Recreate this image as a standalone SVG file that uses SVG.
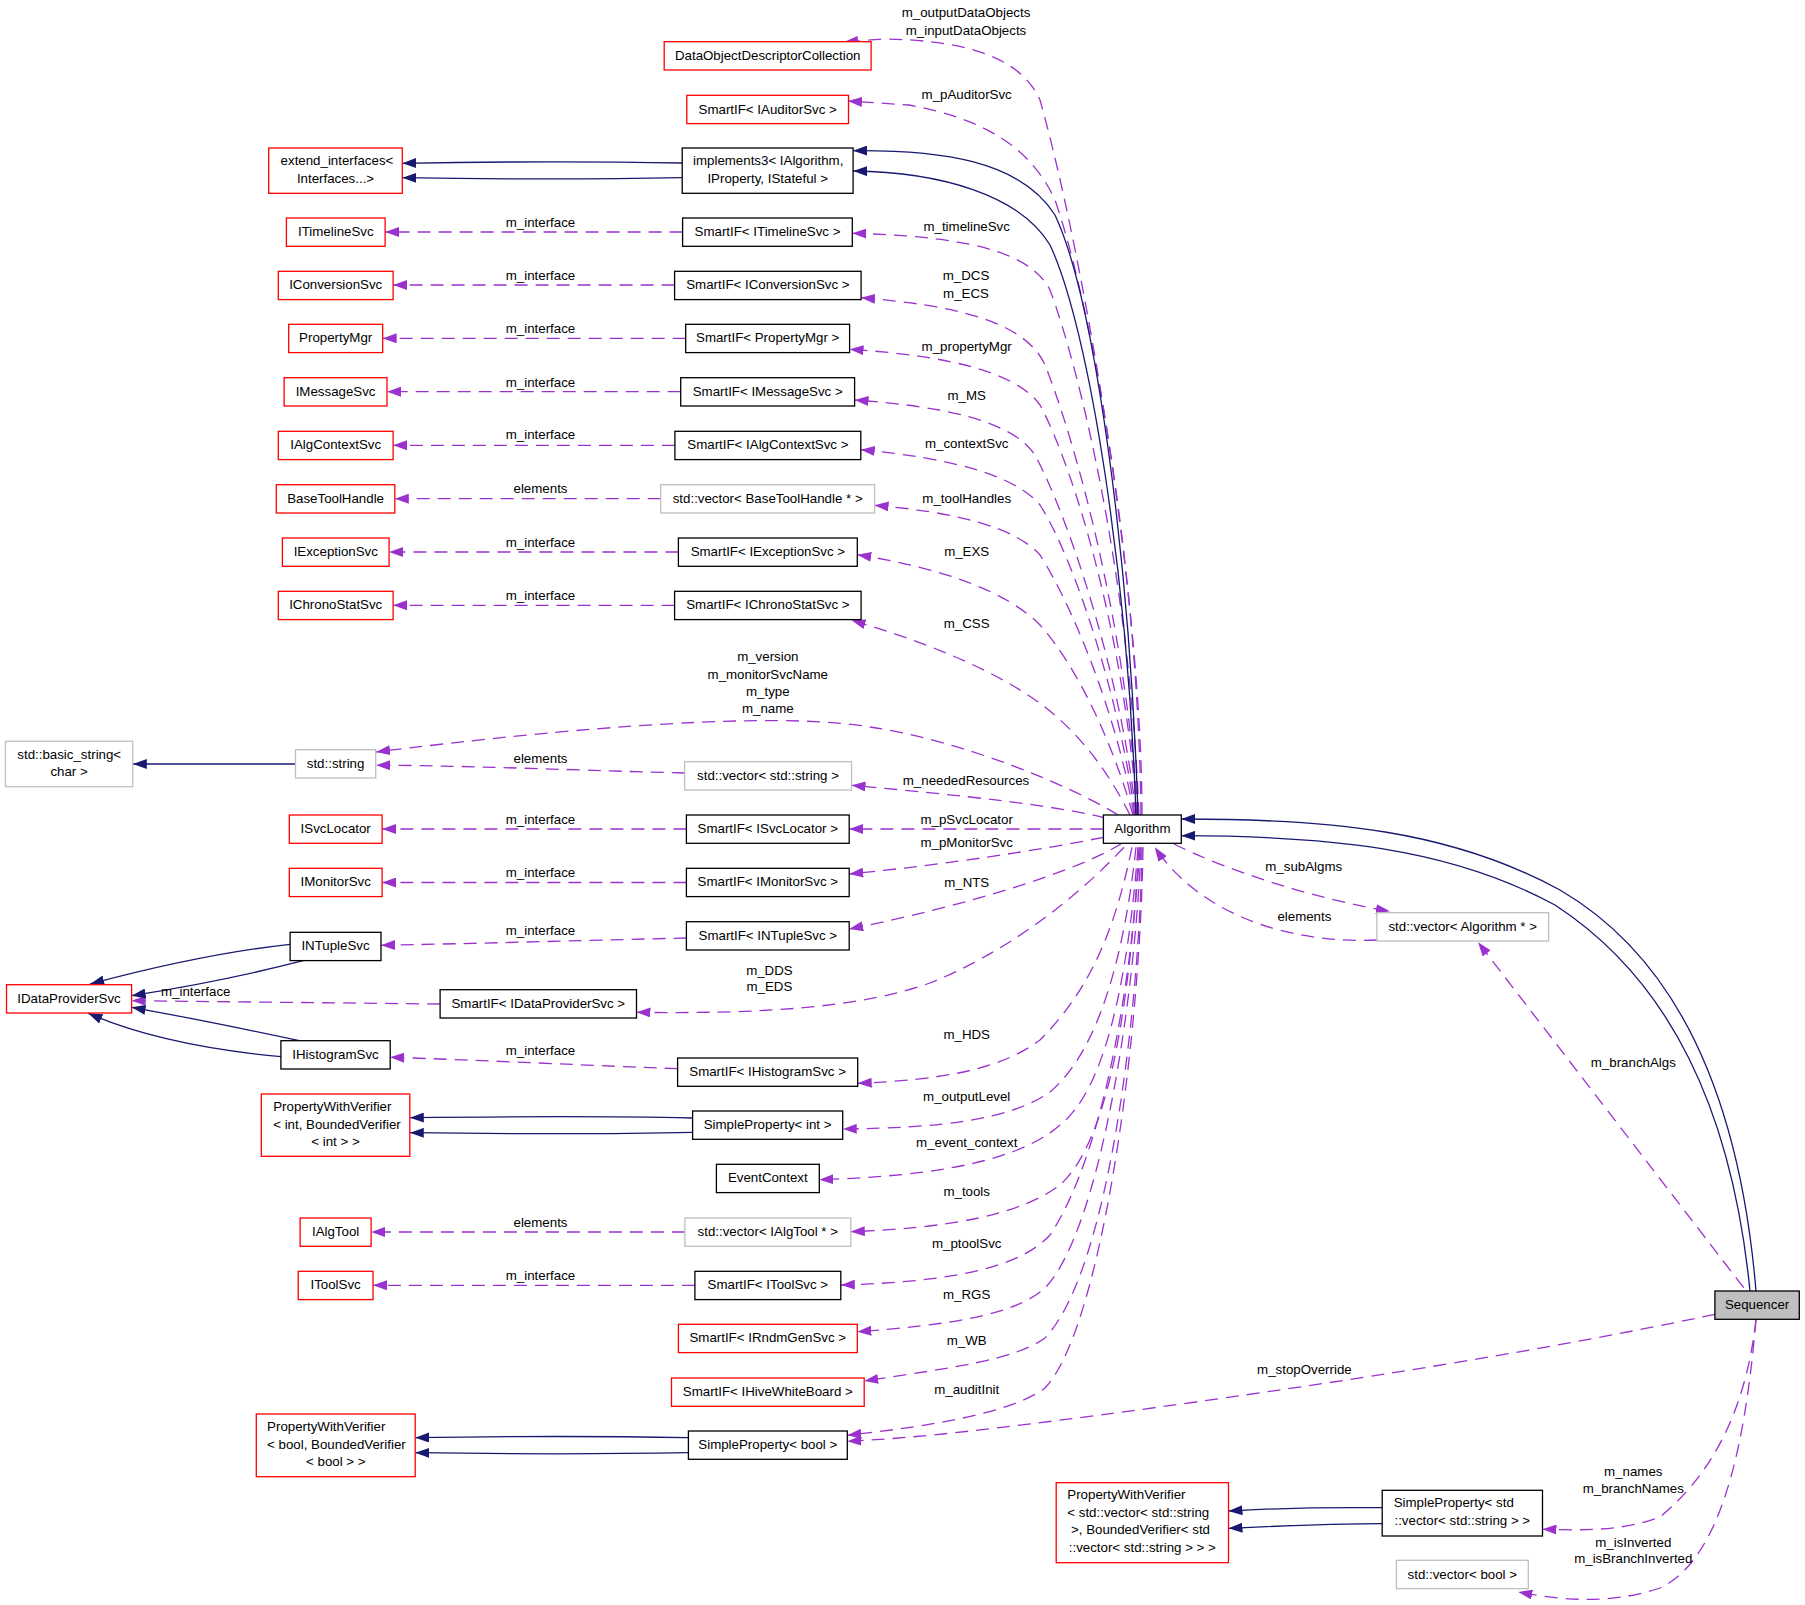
<svg xmlns="http://www.w3.org/2000/svg" width="1805" height="1605" viewBox="0 0 1805 1605">
<style>
rect{stroke-width:1.3}
.nr rect{fill:#fff;stroke:#ff0000}
.nk rect{fill:#fff;stroke:#000}
.ng rect{fill:#fff;stroke:#bfbfbf}
.ns rect{fill:#bfbfbf;stroke:#000}
text{font-family:"Liberation Sans",Arial,Helvetica,sans-serif;font-size:13.3px;fill:#000;text-anchor:middle}
text.l{text-anchor:start}
.e{fill:none;stroke:#9a32cd;stroke-width:1.3;stroke-dasharray:13,8;marker-end:url(#ap)}
.i{fill:none;stroke:#191970;stroke-width:1.3;marker-end:url(#an)}
</style>
<defs>
<marker id="ap" viewBox="0 0 14 10" refX="14" refY="5" markerWidth="14" markerHeight="10" markerUnits="userSpaceOnUse" orient="auto"><path d="M0,0 L14,5 L0,10 z" fill="#9a32cd"/></marker>
<marker id="an" viewBox="0 0 14 10" refX="14" refY="5" markerWidth="14" markerHeight="10" markerUnits="userSpaceOnUse" orient="auto"><path d="M0,0 L14,5 L0,10 z" fill="#191970"/></marker>
</defs>
<rect x="0" y="0" width="1805" height="1605" fill="#fff" stroke="none"/>
<g id="edges">
<path class="e" d="M1142,815 C1142,600 1085,260 1040,100 C1020,55 960,40 884,39 L844,42"/>
<path class="e" d="M1141,815 C1138,560 1090,300 1055,200 C1030,145 980,118 909,105 L848,101"/>
<path class="e" d="M1139,815 C1130,580 1080,370 1050,290 C1030,250 960,236 852.3,233.3"/>
<path class="e" d="M1138,815 C1125,620 1075,440 1045,365 C1025,320 950,305 861.1,297.7"/>
<path class="e" d="M1137,815 C1125,640 1075,470 1040,405 C1015,370 940,355 849.6,349.3"/>
<path class="e" d="M1136,815 C1122,680 1070,520 1035,455 C1012,420 940,406 854.6,400"/>
<path class="e" d="M1135,815 C1120,700 1075,560 1040,505 C1015,475 950,458 860.8,449.7"/>
<path class="e" d="M1134,815 C1118,720 1075,610 1040,555 C1015,527 955,512 874.6,505.3"/>
<path class="e" d="M1133,815 C1115,750 1080,670 1040,625 C1005,590 940,568 857.3,554.7"/>
<path class="e" d="M1130,815 C1105,765 1070,720 1020,690 C980,665 920,640 851.5,620.3"/>
<path class="e" d="M1118,815 C1070,785 960,740 870,727 C800,715 650,718 376.1,752"/>
<path class="e" d="M1105,818 C1060,806 960,795 851.5,785.3"/>
<path class="e" d="M684.6,773 C600,771 450,765 376.1,765.3"/>
<path class="e" d="M1103.4,829 L849.2,829"/>
<path class="e" d="M1103.4,837.3 C1040,850 950,864 849.2,874"/>
<path class="e" d="M1122,843.3 C1080,870 970,905 849.2,929"/>
<path class="e" d="M1124,847.3 C1070,905 1000,955 930,983 C860,1008 760,1014 636.5,1012.3"/>
<path class="e" d="M1132,847.3 C1115,930 1090,990 1040,1040 C1000,1070 940,1080 857.7,1083.3"/>
<path class="e" d="M1136,847.3 C1125,950 1100,1050 1050,1092 C1010,1120 940,1128 842.7,1129"/>
<path class="e" d="M1138,847.3 C1128,980 1105,1090 1060,1125 C1020,1160 940,1176 819.3,1179.7"/>
<path class="e" d="M1139,847.3 C1130,1000 1110,1140 1060,1185 C1020,1215 950,1228 850.8,1231.7"/>
<path class="e" d="M1140,847.3 C1130,1000 1100,1160 1050,1235 C1020,1268 950,1282 840.8,1285"/>
<path class="e" d="M1141,847.3 C1135,1000 1100,1230 1045,1288 C1015,1315 950,1325 857.3,1331.7"/>
<path class="e" d="M1142,847.3 C1140,1000 1110,1270 1045,1338 C1015,1360 950,1368 864.2,1381"/>
<path class="e" d="M1143,847.3 C1140,1050 1100,1330 1045,1388 C1015,1410 950,1424 847.3,1435.3"/>
<path class="e" d="M1714.9,1314.3 C1500,1360 1250,1395 1100,1415 C1000,1428 920,1438 847.3,1441.3"/>
<path class="e" d="M1174,844 C1230,872 1320,900 1389.9,911.3"/>
<path class="e" d="M1376.9,940 C1290,944 1200,915 1154.8,847.3"/>
<path class="e" d="M1743.7,1287.7 L1478.1,942.3"/>
<path class="e" d="M1756,1319.3 C1745,1420 1705,1480 1660,1517 C1620,1532 1580,1530 1542.5,1529.3"/>
<path class="e" d="M1756,1319.3 C1745,1450 1720,1560 1660,1588 C1610,1605 1560,1600 1518.3,1592"/>
<path class="e" d="M682.6,232 L385.1,232"/>
<path class="e" d="M674.6,285 L393.1,285"/>
<path class="e" d="M685.7,338.3 L382.7,338.3"/>
<path class="e" d="M680.7,391.7 L387,391.7"/>
<path class="e" d="M674.9,445.3 L393.1,445.3"/>
<path class="e" d="M660.7,498.7 L394.8,498.7"/>
<path class="e" d="M678.4,552 L389.1,552"/>
<path class="e" d="M674.6,605.3 L393.1,605.3"/>
<path class="e" d="M686.4,829 L382.1,829"/>
<path class="e" d="M686.4,882.5 L382.1,882.5"/>
<path class="e" d="M686.4,938 C600,940 500,943 381,945.3"/>
<path class="e" d="M440.1,1004 L131.6,1000.7"/>
<path class="e" d="M677.6,1068.7 C600,1066 480,1060 390.2,1057.3"/>
<path class="e" d="M684.9,1232 L371.1,1232"/>
<path class="e" d="M694.9,1285.3 L373,1285.3"/>
<path class="i" d="M1138,815 C1130,560 1095,300 1055,215 C1020,160 940,150 853.1,150.7"/>
<path class="i" d="M1136,815 C1128,580 1090,330 1050,245 C1020,195 940,172 853.1,171"/>
<path class="i" d="M682.2,163 C600,161.5 500,161.5 402.3,163.3"/>
<path class="i" d="M682.2,177.7 C600,179.3 500,179.3 402.3,177.7"/>
<path class="i" d="M295.5,764 L132.8,764"/>
<path class="i" d="M290.1,944.3 C220,952 150,968 90.2,984"/>
<path class="i" d="M303.1,960.7 C240,977 180,988 131.6,995.7"/>
<path class="i" d="M299.3,1040.7 C240,1028 180,1016 131.6,1007.3"/>
<path class="i" d="M280.9,1056.7 C210,1050 140,1036 88.3,1013.3"/>
<path class="i" d="M692.6,1118 C620,1116.3 520,1116.3 409.8,1117.7"/>
<path class="i" d="M692.6,1132.3 C620,1134 520,1134 409.8,1132.7"/>
<path class="i" d="M688.4,1437.7 C600,1436 520,1436 415.2,1437.7"/>
<path class="i" d="M688.4,1452.7 C600,1454.3 520,1454.3 415.2,1452.7"/>
<path class="i" d="M1382.2,1507.7 C1320,1507 1280,1508 1228.5,1511"/>
<path class="i" d="M1382.2,1523.7 C1320,1524 1280,1526 1228.5,1528.3"/>
<path class="i" d="M1756,1291 C1740,1100 1680,960 1560,890 C1450,830 1330,819 1181.3,819"/>
<path class="i" d="M1750,1291 C1732,1110 1670,980 1555,905 C1450,848 1330,836 1181.3,835.7"/>
</g>
<g id="edge-labels">
<text x="966" y="16.7">m_outputDataObjects</text>
<text x="966" y="34.7">m_inputDataObjects</text>
<text x="966.7" y="98.7">m_pAuditorSvc</text>
<text x="966.7" y="230.7">m_timelineSvc</text>
<text x="966" y="280">m_DCS</text>
<text x="966" y="298.3">m_ECS</text>
<text x="966.7" y="350.7">m_propertyMgr</text>
<text x="966.7" y="400">m_MS</text>
<text x="966.7" y="447.7">m_contextSvc</text>
<text x="966.7" y="502.7">m_toolHandles</text>
<text x="966.7" y="555.7">m_EXS</text>
<text x="966.7" y="628.3">m_CSS</text>
<text x="767.8" y="661">m_version</text>
<text x="767.8" y="678.7">m_monitorSvcName</text>
<text x="767.8" y="696">m_type</text>
<text x="767.8" y="712.7">m_name</text>
<text x="966" y="784.7">m_neededResources</text>
<text x="966.7" y="823.7">m_pSvcLocator</text>
<text x="966.7" y="846.7">m_pMonitorSvc</text>
<text x="966.7" y="886.7">m_NTS</text>
<text x="769.4" y="974.7">m_DDS</text>
<text x="769.4" y="991.3">m_EDS</text>
<text x="966.7" y="1039.3">m_HDS</text>
<text x="966.7" y="1100.7">m_outputLevel</text>
<text x="966.7" y="1146.7">m_event_context</text>
<text x="966.7" y="1195.7">m_tools</text>
<text x="966.7" y="1247.7">m_ptoolSvc</text>
<text x="966.7" y="1299.3">m_RGS</text>
<text x="966.7" y="1344.7">m_WB</text>
<text x="966.7" y="1394.3">m_auditInit</text>
<text x="1304.4" y="1374.3">m_stopOverride</text>
<text x="1303.7" y="871.3">m_subAlgms</text>
<text x="1304.4" y="920.7">elements</text>
<text x="1633.3" y="1066.7">m_branchAlgs</text>
<text x="1633.3" y="1475.7">m_names</text>
<text x="1633.3" y="1492.7">m_branchNames</text>
<text x="1633.3" y="1546.7">m_isInverted</text>
<text x="1633.3" y="1563.3">m_isBranchInverted</text>
<text x="540.5" y="226.7">m_interface</text>
<text x="540.5" y="279.7">m_interface</text>
<text x="540.5" y="332.7">m_interface</text>
<text x="540.5" y="386.7">m_interface</text>
<text x="540.5" y="439.3">m_interface</text>
<text x="540.5" y="492.7">elements</text>
<text x="540.5" y="546.7">m_interface</text>
<text x="540.5" y="599.7">m_interface</text>
<text x="540.5" y="762.7">elements</text>
<text x="540.5" y="823.7">m_interface</text>
<text x="540.5" y="876.7">m_interface</text>
<text x="540.5" y="934.7">m_interface</text>
<text x="195.7" y="995.7">m_interface</text>
<text x="540.5" y="1054.7">m_interface</text>
<text x="540.5" y="1226.7">elements</text>
<text x="540.5" y="1279.7">m_interface</text>
</g>
<g id="n_DataObjectDescriptorCollection" class="nr"><rect x="664.2" y="41.7" width="206.9" height="28.3"/><text x="767.7" y="60">DataObjectDescriptorCollection</text></g>
<g id="n_SmartIF_IAuditorSvc" class="nr"><rect x="686.8" y="95.3" width="161.7" height="28.3"/><text x="767.7" y="113.5">SmartIF&lt; IAuditorSvc &gt;</text></g>
<g id="n_implements3" class="nk"><rect x="682.2" y="148" width="170.9" height="45.3"/><text class="l" x="693" y="164.7">implements3&lt; IAlgorithm,</text><text x="767.7" y="182.7">IProperty, IStateful &gt;</text></g>
<g id="n_extend_interfaces" class="nr"><rect x="268.7" y="148" width="133.6" height="45.3"/><text class="l" x="280.6" y="164.7">extend_interfaces&lt;</text><text x="335.5" y="182.7">Interfaces...&gt;</text></g>
<g id="n_ITimelineSvc" class="nr"><rect x="286.4" y="218" width="98.7" height="28.3"/><text x="335.8" y="236">ITimelineSvc</text></g>
<g id="n_SmartIF_ITimelineSvc" class="nk"><rect x="682.6" y="218" width="169.7" height="28.3"/><text x="767.5" y="236">SmartIF&lt; ITimelineSvc &gt;</text></g>
<g id="n_IConversionSvc" class="nr"><rect x="278.3" y="271.3" width="114.8" height="28.3"/><text x="335.7" y="289.3">IConversionSvc</text></g>
<g id="n_SmartIF_IConversionSvc" class="nk"><rect x="674.6" y="271.3" width="186.5" height="28.3"/><text x="767.9" y="289.3">SmartIF&lt; IConversionSvc &gt;</text></g>
<g id="n_PropertyMgr" class="nr"><rect x="288.7" y="324.3" width="94" height="28.3"/><text x="335.7" y="342.3">PropertyMgr</text></g>
<g id="n_SmartIF_PropertyMgr" class="nk"><rect x="685.7" y="324.3" width="163.9" height="28.3"/><text x="767.7" y="342.3">SmartIF&lt; PropertyMgr &gt;</text></g>
<g id="n_IMessageSvc" class="nr"><rect x="284.1" y="377.7" width="102.9" height="28.3"/><text x="335.6" y="395.8">IMessageSvc</text></g>
<g id="n_SmartIF_IMessageSvc" class="nk"><rect x="680.7" y="377.7" width="173.9" height="28.3"/><text x="767.7" y="395.8">SmartIF&lt; IMessageSvc &gt;</text></g>
<g id="n_IAlgContextSvc" class="nr"><rect x="278.3" y="431.3" width="114.8" height="28.3"/><text x="335.7" y="449.4">IAlgContextSvc</text></g>
<g id="n_SmartIF_IAlgContextSvc" class="nk"><rect x="674.9" y="431.3" width="185.9" height="28.3"/><text x="767.9" y="449.4">SmartIF&lt; IAlgContextSvc &gt;</text></g>
<g id="n_BaseToolHandle" class="nr"><rect x="276.3" y="484.7" width="118.5" height="28.3"/><text x="335.6" y="502.8">BaseToolHandle</text></g>
<g id="n_vector_BaseToolHandle" class="ng"><rect x="660.7" y="484.7" width="213.9" height="28.3"/><text x="767.7" y="502.8">std::vector&lt; BaseToolHandle * &gt;</text></g>
<g id="n_IExceptionSvc" class="nr"><rect x="282.4" y="538" width="106.7" height="28.3"/><text x="335.8" y="556.1">IExceptionSvc</text></g>
<g id="n_SmartIF_IExceptionSvc" class="nk"><rect x="678.4" y="538" width="178.9" height="28.3"/><text x="767.9" y="556.1">SmartIF&lt; IExceptionSvc &gt;</text></g>
<g id="n_IChronoStatSvc" class="nr"><rect x="278.3" y="591.3" width="114.8" height="28.3"/><text x="335.7" y="609.4">IChronoStatSvc</text></g>
<g id="n_SmartIF_IChronoStatSvc" class="nk"><rect x="674.6" y="591.3" width="186.5" height="28.3"/><text x="767.9" y="609.4">SmartIF&lt; IChronoStatSvc &gt;</text></g>
<g id="n_basic_string" class="ng"><rect x="5.4" y="741.3" width="127.4" height="45.4"/><text class="l" x="17.3" y="758.5">std::basic_string&lt;</text><text x="69.1" y="776">char &gt;</text></g>
<g id="n_std_string" class="ng"><rect x="295.5" y="749.7" width="80.2" height="28.3"/><text x="335.6" y="767.8">std::string</text></g>
<g id="n_vector_string" class="ng"><rect x="684.6" y="761.7" width="166.9" height="28.3"/><text x="768" y="779.8">std::vector&lt; std::string &gt;</text></g>
<g id="n_ISvcLocator" class="nr"><rect x="289.3" y="815" width="92.8" height="28.3"/><text x="335.7" y="833.1">ISvcLocator</text></g>
<g id="n_SmartIF_ISvcLocator" class="nk"><rect x="686.4" y="815" width="162.8" height="28.3"/><text x="767.8" y="833.1">SmartIF&lt; ISvcLocator &gt;</text></g>
<g id="n_Algorithm" class="nk"><rect x="1103.4" y="815" width="77.9" height="28.3"/><text x="1142.4" y="833.1">Algorithm</text></g>
<g id="n_IMonitorSvc" class="nr"><rect x="289.3" y="868.3" width="92.8" height="28.3"/><text x="335.7" y="886.4">IMonitorSvc</text></g>
<g id="n_SmartIF_IMonitorSvc" class="nk"><rect x="686.4" y="868.3" width="162.8" height="28.3"/><text x="767.8" y="886.4">SmartIF&lt; IMonitorSvc &gt;</text></g>
<g id="n_INTupleSvc" class="nk"><rect x="290.1" y="932.3" width="90.9" height="28.3"/><text x="335.5" y="950.4">INTupleSvc</text></g>
<g id="n_SmartIF_INTupleSvc" class="nk"><rect x="686.4" y="921.7" width="162.8" height="28.3"/><text x="767.8" y="939.8">SmartIF&lt; INTupleSvc &gt;</text></g>
<g id="n_IDataProviderSvc" class="nr"><rect x="6.5" y="984.7" width="125.1" height="28.3"/><text x="69" y="1002.8">IDataProviderSvc</text></g>
<g id="n_SmartIF_IDataProviderSvc" class="nk"><rect x="440.1" y="989.7" width="196.4" height="28.3"/><text x="538.3" y="1007.8">SmartIF&lt; IDataProviderSvc &gt;</text></g>
<g id="n_IHistogramSvc" class="nk"><rect x="280.9" y="1040.7" width="109.3" height="28.3"/><text x="335.5" y="1058.8">IHistogramSvc</text></g>
<g id="n_SmartIF_IHistogramSvc" class="nk"><rect x="677.6" y="1058" width="180.1" height="28.3"/><text x="767.6" y="1076.1">SmartIF&lt; IHistogramSvc &gt;</text></g>
<g id="n_PWV_int" class="nr"><rect x="261.3" y="1094" width="148.5" height="62.3"/><text class="l" x="273.2" y="1110.7">PropertyWithVerifier</text><text class="l" x="273.2" y="1128.7">&lt; int, BoundedVerifier</text><text x="335.5" y="1146">&lt; int &gt; &gt;</text></g>
<g id="n_SimpleProperty_int" class="nk"><rect x="692.6" y="1111" width="150.1" height="28.3"/><text x="767.6" y="1129.1">SimpleProperty&lt; int &gt;</text></g>
<g id="n_EventContext" class="nk"><rect x="716.4" y="1164.3" width="102.9" height="28.3"/><text x="767.8" y="1182.4">EventContext</text></g>
<g id="n_IAlgTool" class="nr"><rect x="300.1" y="1218" width="71" height="28.3"/><text x="335.6" y="1236.1">IAlgTool</text></g>
<g id="n_vector_IAlgTool" class="ng"><rect x="684.9" y="1218" width="165.9" height="28.3"/><text x="767.8" y="1236.1">std::vector&lt; IAlgTool * &gt;</text></g>
<g id="n_IToolSvc" class="nr"><rect x="298.2" y="1271.3" width="74.8" height="28.3"/><text x="335.6" y="1289.4">IToolSvc</text></g>
<g id="n_SmartIF_IToolSvc" class="nk"><rect x="694.9" y="1271.3" width="145.9" height="28.3"/><text x="767.8" y="1289.4">SmartIF&lt; IToolSvc &gt;</text></g>
<g id="n_SmartIF_IRndmGenSvc" class="nr"><rect x="678.4" y="1324.3" width="178.9" height="28.3"/><text x="767.8" y="1342.4">SmartIF&lt; IRndmGenSvc &gt;</text></g>
<g id="n_SmartIF_IHiveWhiteBoard" class="nr"><rect x="671.5" y="1378" width="192.7" height="28.3"/><text x="767.8" y="1396.1">SmartIF&lt; IHiveWhiteBoard &gt;</text></g>
<g id="n_PWV_bool" class="nr"><rect x="256.3" y="1414" width="158.9" height="62.7"/><text class="l" x="267.1" y="1430.7">PropertyWithVerifier</text><text class="l" x="267.1" y="1448.7">&lt; bool, BoundedVerifier</text><text x="335.8" y="1466">&lt; bool &gt; &gt;</text></g>
<g id="n_SimpleProperty_bool" class="nk"><rect x="688.4" y="1431" width="158.9" height="28.3"/><text x="767.8" y="1449.1">SimpleProperty&lt; bool &gt;</text></g>
<g id="n_PWV_vector" class="nr"><rect x="1056.2" y="1482.7" width="172.3" height="80"/><text class="l" x="1067.3" y="1499.3">PropertyWithVerifier</text><text class="l" x="1067.3" y="1516.7">&lt; std::vector&lt; std::string</text><text class="l" x="1071" y="1534">&gt;, BoundedVerifier&lt; std</text><text x="1142.3" y="1551.7">::vector&lt; std::string &gt; &gt; &gt;</text></g>
<g id="n_SimpleProperty_vector" class="nk"><rect x="1382.2" y="1490.3" width="160.3" height="45.7"/><text class="l" x="1393.7" y="1507.3">SimpleProperty&lt; std</text><text x="1462.3" y="1524.7">::vector&lt; std::string &gt; &gt;</text></g>
<g id="n_vector_bool" class="ng"><rect x="1396.4" y="1560.3" width="131.9" height="28.3"/><text x="1462.3" y="1578.5">std::vector&lt; bool &gt;</text></g>
<g id="n_vector_Algorithm" class="ng"><rect x="1376.9" y="912.7" width="171.7" height="28.3"/><text x="1462.7" y="930.7">std::vector&lt; Algorithm * &gt;</text></g>
<g id="n_Sequencer" class="ns"><rect x="1714.9" y="1291" width="84.4" height="28.3"/><text x="1757.1" y="1309.2">Sequencer</text></g>
</svg>
